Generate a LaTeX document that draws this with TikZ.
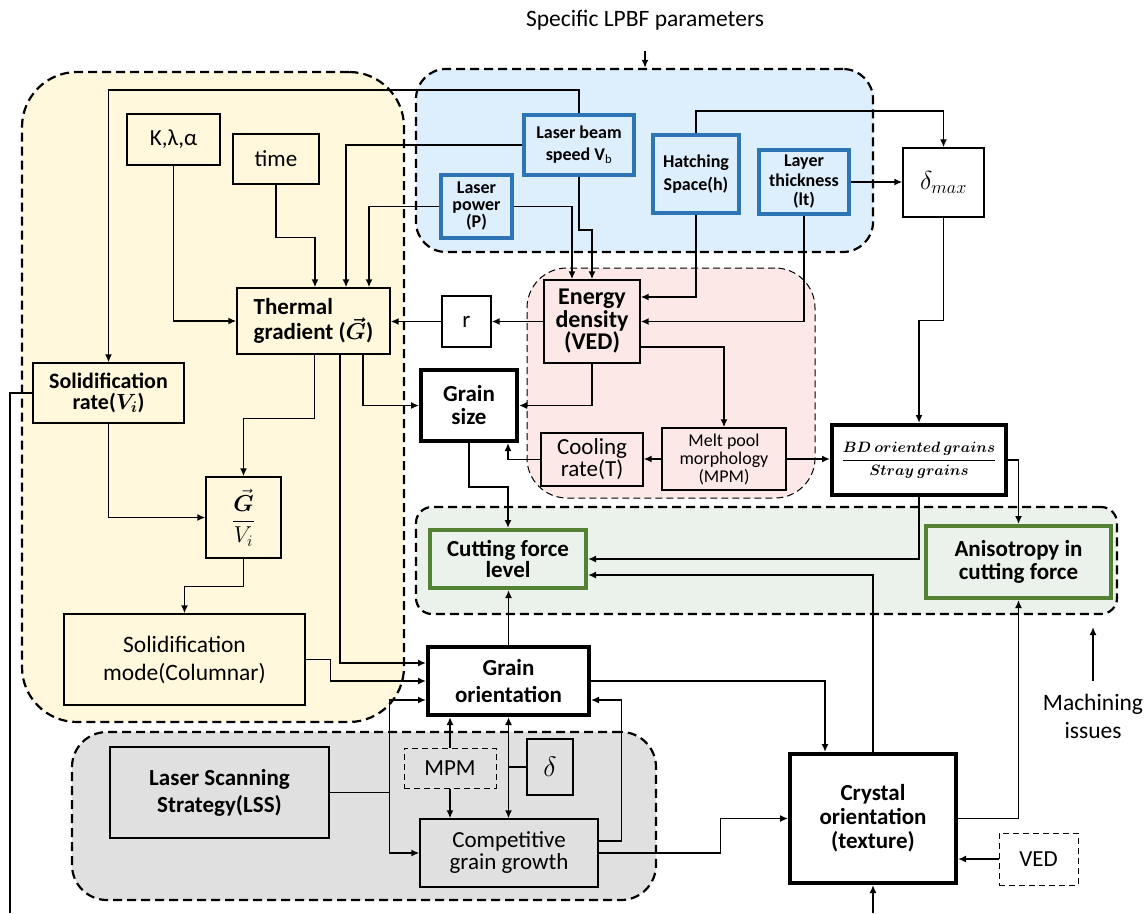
\RequirePackage{fix-cm}
\documentclass[tikz,border=0pt]{standalone}
\usepackage{bm}
\usepackage{fontspec}
\setmainfont{Carlito}
\usetikzlibrary{arrows.meta}
\definecolor{yel}{RGB}{255,248,220}
\definecolor{blu}{RGB}{221,238,252}
\definecolor{pnk}{RGB}{253,232,232}
\definecolor{grn}{RGB}{235,241,235}
\definecolor{gry}{RGB}{224,224,224}
\definecolor{bborder}{RGB}{46,117,182}
\definecolor{gborder}{RGB}{84,130,53}
\begin{document}
\begin{tikzpicture}[x=1pt,y=-1pt,
  base/.style={draw, line width=1.3pt, inner sep=1pt, align=center, font=\fontsize{23}{24}\selectfont},
  bbox/.style={base, font=\fontsize{23}{24}\selectfont\bfseries},
  thickbox/.style={bbox, line width=4pt, fill=white},
  bluebox/.style={base, draw=bborder, line width=4pt, font=\fontsize{18}{21}\selectfont\bfseries},
  greenbox/.style={base, draw=gborder, line width=4pt, font=\fontsize{23}{22}\selectfont\bfseries},
  dbox/.style={base, line width=1pt, dash pattern=on 6pt off 4pt},
  region/.style={draw, line width=2.2pt, dash pattern=on 9pt off 5pt, inner sep=0pt},
  conn/.style={line width=1.6pt},
  arr/.style={conn, -{Latex[length=8pt,width=7pt]}},
  darr/.style={conn, {Latex[length=8pt,width=7pt]}-{Latex[length=8pt,width=7pt]}},
  lbl/.style={inner sep=1pt, align=center, font=\fontsize{23.5}{28}\selectfont}
]
\useasboundingbox (0,0) rectangle (1148,913);

% regions
\node[region, fill=yel, rounded corners=55pt, minimum width=382, minimum height=650] (yreg) at (213,397) {};
\node[region, fill=blu, rounded corners=30pt, minimum width=457, minimum height=183] (breg) at (644.5,160.5) {};
\node[region, fill=pnk, line width=1pt, dash pattern=on 7pt off 4pt, rounded corners=40pt, minimum width=288, minimum height=230] (preg) at (671,383) {};
\node[region, fill=grn, rounded corners=16pt, minimum width=701, minimum height=107] (greg) at (766.5,560.5) {};
\node[region, fill=gry, rounded corners=35pt, minimum width=584, minimum height=168] (rreg) at (364,816) {};

% labels
\node[lbl] (lpbf) at (645,20) {Specific LPBF parameters};
\node[lbl] (mi) at (1093,716) {Machining\\issues};

% yellow nodes
\node[base, minimum width=93, minimum height=51] (kla) at (173.5,139.5) {K,λ,α};
\node[base, minimum width=86, minimum height=50] (time) at (276,159) {time};
\node[bbox, align=left, minimum width=153, minimum height=66, font=\fontsize{23}{25}\selectfont\bfseries\boldmath] (tg) at (313.5,321) {Thermal\\gradient ($\vec{G}$)};
\node[bbox, minimum width=151, minimum height=60, font=\fontsize{22}{21}\selectfont\bfseries\boldmath] (sr) at (108.5,393) {Solidification\\rate($V_i$)};
\node[base, minimum width=75, minimum height=81, font=\fontsize{23}{24}\selectfont] (gv) at (243.5,517.5) {$\displaystyle\frac{\vec{\bm{G}}}{V_i}$};
\node[base, minimum width=241, minimum height=91, font=\fontsize{23.5}{28}\selectfont] (sm) at (184.5,659.5) {Solidification\\mode(Columnar)};

% blue nodes
\node[bluebox, minimum width=110, minimum height=60, font=\fontsize{18}{22}\selectfont\bfseries] (lbs) at (579,145) {Laser beam\\speed V\textsubscript{\mdseries b}};
\node[bluebox, minimum width=71, minimum height=63, font=\fontsize{18}{17}\selectfont\bfseries] (lp) at (476.5,206.5) {Laser\\power\\(P)};
\node[bluebox, minimum width=86, minimum height=78, font=\fontsize{18}{23}\selectfont\bfseries] (hs) at (696,174) {Hatching\\Space(h)};
\node[bluebox, minimum width=90, minimum height=64, font=\fontsize{18}{19.5}\selectfont\bfseries] (lt) at (804,182) {Layer\\thickness\\(lt)};
\node[base, fill=white, minimum width=81, minimum height=69, font=\fontsize{26}{26}\selectfont] (dmax) at (943.5,182.5) {$\delta_{max}$};

% pink nodes
\node[bbox, minimum width=96, minimum height=83, font=\fontsize{24}{22.5}\selectfont\bfseries] (ed) at (592,321.5) {Energy\\density\\(VED)};
\node[base, fill=white, minimum width=49, minimum height=51] (r) at (466.5,321.5) {r};
\node[thickbox, minimum width=96, minimum height=71, font=\fontsize{23}{23}\selectfont\bfseries] (gs) at (469,405.5) {Grain\\size};
\node[base, minimum width=102, minimum height=53, font=\fontsize{23}{22}\selectfont] (cr) at (592,459.5) {Cooling\\rate(T)};
\node[base, minimum width=124, minimum height=62, font=\fontsize{18}{18}\selectfont] (mp) at (724,459) {Melt pool\\morphology\\(MPM)};
\node[thickbox, minimum width=174, minimum height=70, font=\fontsize{15}{18}\selectfont\boldmath] (bd) at (919,460) {$\displaystyle\frac{BD\ oriented\ grains}{Stray\ grains}$};

% green nodes
\node[greenbox, minimum width=156, minimum height=58, font=\fontsize{23}{21}\selectfont\bfseries] (cf) at (508,559) {Cutting force\\level};
\node[greenbox, minimum width=185, minimum height=72, font=\fontsize{23}{23}\selectfont\bfseries] (an) at (1018.5,562) {Anisotropy in\\cutting force};

% gray nodes
\node[thickbox, minimum width=161, minimum height=68, font=\fontsize{23}{27}\selectfont\bfseries] (go) at (508.5,681) {Grain\\orientation};
\node[dbox, minimum width=92, minimum height=40] (mpm) at (450,768) {MPM};
\node[base, minimum width=46, minimum height=56, font=\fontsize{28}{28}\selectfont] (del) at (550,767) {$\delta$};
\node[base, minimum width=178, minimum height=68, font=\fontsize{23}{22}\selectfont] (cg) at (509,853) {Competitive\\grain growth};
\node[bbox, minimum width=219, minimum height=91, font=\fontsize{23}{27}\selectfont\bfseries] (lss) at (219.5,792.5) {Laser Scanning\\Strategy(LSS)};
\node[thickbox, minimum width=166, minimum height=129, font=\fontsize{23}{24}\selectfont\bfseries] (co) at (873,818.5) {Crystal\\orientation\\(texture)};
\node[dbox, minimum width=79, minimum height=52] (ved) at (1038.5,859) {VED};

% free ends
\coordinate (bl) at (10,913);
\coordinate (cb) at (873,913);
\coordinate (mia) at (1093,681);
\coordinate (mib) at (1093,627);

% connectors
\draw[arr] ([yshift=-20pt]lpbf.south) -- (lpbf.south |- breg.north);
\draw[arr] (mia) -- (mib);
\draw[arr] (lbs.north) -- ++(0,-23) -| (sr.north);
\draw[arr] (lbs.west) -| ([xshift=32.5pt]tg.north);
\draw[arr] (lp.west) -| ([xshift=55.5pt]tg.north);
\draw[arr] (time.south) -- ++(0,53) -| ([xshift=1.5pt]tg.north);
\draw[arr] (kla.south) |- (tg.west);
\draw[arr] (r.west) -- (r.west -| tg.east);
\draw[arr] (ed.west) -- (ed.west -| r.east);
\draw[arr] (lp.east) -| ([xshift=-20pt]ed.north);
\draw[arr] (lbs.south) -- ++(0,53) -| (ed.north);
\draw[arr] (hs.north) -- ++(0,-22) -| (dmax.north);
\draw[arr] (hs.south) |- ([yshift=24.5pt]ed.east);
\draw[arr] (lt.south) |- (ed.east);
\draw[arr] (lt.east) -- (lt.east -| dmax.west);
\draw[arr] (dmax.south) -- ++(0,103) -| (bd.north);
\draw[arr] ([yshift=-25.5pt]ed.east) -| (mp.north);
\draw[arr] (ed.south) |- (gs.east);
\draw[arr] ([xshift=49.5pt]tg.south) |- (gs.west);
\draw[arr] ([xshift=1pt]tg.south) -- ++(0,64) -| (gv.north);
\draw[arr] ([xshift=26.5pt]tg.south) |- ([yshift=18pt]go.west);
\draw[arr] (sr.south) |- (gv.west);
\draw[conn] (sr.west) -| (bl);
\draw[arr] (gv.south) -- ++(0,28) -| (sm.north);
\draw[arr] (sm.east) -- ++(25,0) |- (go.west);
\draw[arr] (cr.west) -| ([xshift=39pt]gs.south);
\draw[arr] (mp.west) -- (mp.west -| cr.east);
\draw[arr] (mp.east) -- (mp.east -| bd.west);
\draw[arr] (gs.south) -- ++(0,44) -| (cf.north);
\draw[arr] (bd.south) |- (cf.east);
\draw[arr] (bd.east) -| (an.north);
\draw[arr] (co.north) |- ([yshift=-16pt]cf.east);
\draw[arr] (co.east) -| (an.south);
\draw[arr] (go.north) -- (go.north |- cf.south);
\draw[arr] (go.east) -| ([xshift=-48pt]co.north);
\draw[conn] (lss.east) -- ++(60,0) coordinate (j);
\draw[arr] (j) |- ([yshift=-19pt]go.west);
\draw[arr] (j) |- (cg.west);
\draw[arr] (mpm.north) -- (mpm.north |- go.south);
\draw[arr] (mpm.south) -- (mpm.south |- cg.north);
\draw[darr] (go.south) -- (go.south |- cg.north);
\draw[conn] (del.west) -- (del.west -| go.south);
\draw[arr] ([yshift=12pt]cg.east) -- ++(23,0) |- ([yshift=-19pt]go.east);
\draw[arr] (cg.east) -- ++(122,0) |- (co.west);
\draw[arr] (ved.west) -- (ved.west -| co.east);
\draw[arr] (cb) -- (co.south);
\end{tikzpicture}
\end{document}
